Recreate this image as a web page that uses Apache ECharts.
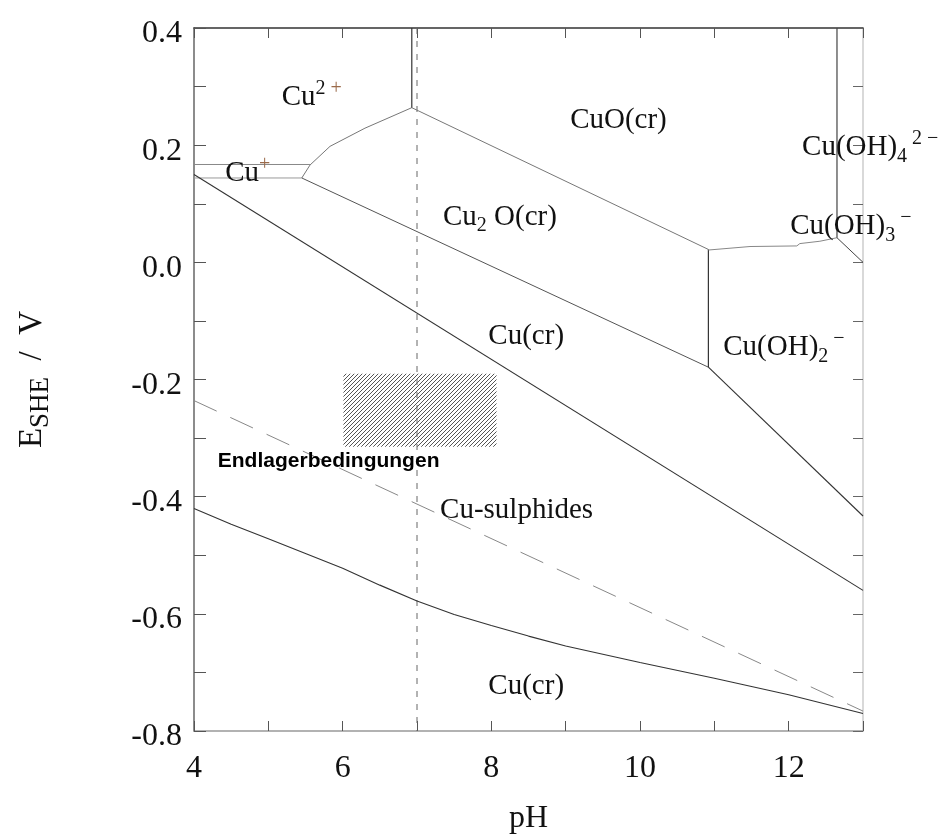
<!DOCTYPE html>
<html>
<head>
<meta charset="utf-8">
<script src="https://cdn.jsdelivr.net/npm/echarts@6/dist/echarts.min.js"></script>
<style>html,body{margin:0;padding:0;background:#fff}#c{width:946px;height:836px}</style>
</head>
<body>
<div id="c"></div>
<script>
// ---- axis ranges / ticks ----
const xRange = [4, 13];
const yRange = [-0.8, 0.4];
const xTickStep = 1;
const yTickStep = 0.1;

// ---- phase boundaries (pH, E/V) ----
const cuPlusTop      = [[4, 0.167], [5.56, 0.167]];
const cuPlusBottom   = [[4, 0.144], [5.45, 0.144]];
const cu2Cu2O        = [[5.45, 0.144], [5.56, 0.166], [5.83, 0.198], [6.3, 0.229], [6.93, 0.264]];
const cu2CuO         = [[6.93, 0.264], [6.93, 0.4]];
const cuOCu2O        = [[6.93, 0.264], [10.92, 0.022]];
const cu2OCu         = [[5.45, 0.144], [10.92, -0.179]];
const cuOCuOH2       = [[10.92, 0.022], [10.92, -0.179]];
const cuOCuOH3       = [[10.92, 0.021], [11.48, 0.027], [12.11, 0.028], [12.15, 0.032], [12.42, 0.036], [12.65, 0.042]];
const cuOCuOH4       = [[12.65, 0.042], [12.65, 0.4]];
const cuOH3CuOH4     = [[12.65, 0.042], [13, 0.0]];
const cuOH2Cu        = [[10.92, -0.179], [13, -0.433]];
const cuCu2OLower    = [[4, 0.15], [13, -0.56]];
const sulphideDashed = [[4, -0.236], [13, -0.766]];
const sulphideCu     = [[4, -0.42], [4.5, -0.447], [5, -0.472], [5.5, -0.497], [6, -0.522], [6.5, -0.551], [7, -0.578], [7.5, -0.601], [8, -0.62], [8.5, -0.638], [9, -0.655], [10, -0.683], [11, -0.71], [12, -0.738], [13, -0.77]];
const pH7Line        = [[7, 0.4], [7, -0.8]];

// ---- repository conditions box [x0, y0, x1, y1] ----
const hatchBox = [6.01, -0.19, 8.07, -0.315];

// ---- region labels [pH, E, text] ----
const regionLabels = [
  [5.18, 0.281, '{t|Cu}{sup|2 }{supc|+}'],
  [9.06, 0.243, '{t|CuO(cr)}'],
  [4.42, 0.151, '{t|Cu}{supc|+}'],
  [7.35, 0.077, '{t|Cu}{sub|2}{t| O(cr)}'],
  [12.18, 0.196, '{t|Cu(OH)}{sub|4}{sup| 2 −}'],
  [12.02, 0.061, '{t|Cu(OH)}{sub|3}{sup| −}'],
  [11.12, -0.145, '{t|Cu(OH)}{sub|2}{sup| −}'],
  [7.96, -0.126, '{t|Cu(cr)}'],
  [7.31, -0.424, '{t|Cu-sulphides}'],
  [7.96, -0.723, '{t|Cu(cr)}']
];
const noteLabel = [4.32, -0.34, 'Endlagerbedingungen'];

// hatch pattern
const pc = document.createElement('canvas');
pc.width = 4; pc.height = 4;
const pctx = pc.getContext('2d');
pctx.strokeStyle = '#555';
pctx.lineWidth = 1;
pctx.beginPath();
pctx.moveTo(-1, 5); pctx.lineTo(5, -1);
pctx.moveTo(-1, 1); pctx.lineTo(1, -1);
pctx.moveTo(3, 5); pctx.lineTo(5, 3);
pctx.stroke();

const serif = 'Liberation Serif';
const rich = {
  t:   {fontFamily: serif, fontSize: 29, color: '#111', lineHeight: 38, verticalAlign: 'middle'},
  sub: {fontFamily: serif, fontSize: 20, color: '#111', lineHeight: 38, verticalAlign: 'bottom'},
  sup: {fontFamily: serif, fontSize: 20, color: '#111', lineHeight: 38, verticalAlign: 'top'},
  supc:{fontFamily: serif, fontSize: 20, color: '#9a6a4a', lineHeight: 38, verticalAlign: 'top'}
};

function lineSeries(data, color, width, type) {
  return {
    type: 'line', data: data, showSymbol: false, symbol: 'none', silent: true,
    lineStyle: {color: color, width: width || 1, type: type || 'solid'},
    animation: false, z: 3
  };
}

const chart = echarts.init(document.getElementById('c'), null, {renderer: 'canvas'});
const axisLabelFont = {fontFamily: serif, fontSize: 32, color: '#111'};

chart.setOption({
  animation: false,
  backgroundColor: '#fff',
  grid: {left: 194, right: 83, top: 28, bottom: 105, containLabel: false, outerBoundsMode: 'none'},
  xAxis: [{
    type: 'value', min: xRange[0], max: xRange[1], interval: xTickStep, position: 'bottom',
    name: 'pH', nameLocation: 'middle', nameGap: 72,
    nameTextStyle: {fontFamily: serif, fontSize: 32, color: '#111'},
    axisLine: {show: true, onZero: false, lineStyle: {color: '#999', width: 1.5}},
    axisTick: {show: true, inside: true, length: 10, lineStyle: {color: '#555'}},
    axisLabel: Object.assign({margin: 22, formatter: v => (Math.round(v) % 2 === 0 ? String(Math.round(v)) : '')}, axisLabelFont),
    splitLine: {show: false}
  }, {
    type: 'value', min: xRange[0], max: xRange[1], interval: xTickStep, position: 'top',
    axisLine: {show: true, onZero: false, lineStyle: {color: '#333', width: 1.5}},
    axisTick: {show: true, inside: true, length: 10, lineStyle: {color: '#555'}},
    axisLabel: {show: false}, splitLine: {show: false}
  }],
  yAxis: [{
    type: 'value', min: yRange[0], max: yRange[1], interval: yTickStep, position: 'left',
    name: '{t|E}{s|SHE}{t|  /  V}', nameLocation: 'middle', nameGap: 140, nameRotate: 90,
    nameTextStyle: {
      rich: {
        t: {fontFamily: serif, fontSize: 33, color: '#111', lineHeight: 44, verticalAlign: 'middle'},
        s: {fontFamily: serif, fontSize: 27, color: '#111', lineHeight: 44, verticalAlign: 'bottom'}
      }
    },
    axisLine: {show: true, onZero: false, lineStyle: {color: '#666', width: 1.5}},
    axisTick: {show: true, inside: true, length: 12, lineStyle: {color: '#555'}},
    axisLabel: {
      margin: 12,
      formatter: v => (Math.round(v * 10) % 2 === 0 ? '{a|' + (Math.round(v * 10) / 10).toFixed(1) + '}' : ''),
      rich: {a: {fontFamily: serif, fontSize: 32, color: '#111', padding: [12, 0, 0, 0]}}
    },
    splitLine: {show: false}
  }, {
    type: 'value', min: yRange[0], max: yRange[1], interval: yTickStep, position: 'right',
    axisLine: {show: true, onZero: false, lineStyle: {color: '#ccc', width: 1.5}},
    axisTick: {show: true, inside: true, length: 10, lineStyle: {color: '#666'}},
    axisLabel: {show: false}, splitLine: {show: false}
  }],
  series: [
    {
      type: 'custom', silent: true, z: 2,
      data: [hatchBox],
      encode: {x: [0, 2], y: [1, 3]},
      renderItem: function (params, api) {
        const p1 = api.coord([api.value(0), api.value(1)]);
        const p2 = api.coord([api.value(2), api.value(3)]);
        return {
          type: 'rect',
          shape: {x: p1[0], y: p1[1], width: p2[0] - p1[0], height: p2[1] - p1[1]},
          style: {fill: {image: pc, repeat: 'repeat'}}
        };
      }
    },
    lineSeries(pH7Line, '#666', 1, [6, 7]),
    lineSeries(cuPlusTop, '#888', 1),
    lineSeries(cuPlusBottom, '#999', 1),
    lineSeries(cu2Cu2O, '#777', 1),
    lineSeries(cu2CuO, '#333', 1.2),
    lineSeries(cuOCu2O, '#777', 1),
    lineSeries(cu2OCu, '#555', 1),
    lineSeries(cuOCuOH2, '#333', 1.2),
    lineSeries(cuOCuOH3, '#888', 1),
    lineSeries(cuOCuOH4, '#444', 1.2),
    lineSeries(cuOH3CuOH4, '#444', 1),
    lineSeries(cuOH2Cu, '#333', 1.1),
    lineSeries(cuCu2OLower, '#333', 1.1),
    lineSeries(sulphideDashed, '#888', 1, [25, 15]),
    lineSeries(sulphideCu, '#333', 1.1),
    {
      type: 'scatter', silent: true, symbolSize: 0, z: 5,
      itemStyle: {opacity: 1},
      data: regionLabels.map(d => ({value: [d[0], d[1]], labelText: d[2]})),
      label: {
        show: true, position: 'inside', align: 'left', verticalAlign: 'middle',
        formatter: p => p.data.labelText, rich: rich
      }
    },
    {
      type: 'scatter', silent: true, symbolSize: 0, z: 5,
      itemStyle: {opacity: 1},
      data: [[noteLabel[0], noteLabel[1]]],
      label: {
        show: true, position: 'inside', align: 'left', verticalAlign: 'middle',
        formatter: noteLabel[2],
        fontFamily: 'Liberation Sans', fontWeight: 'bold', fontSize: 21, color: '#000'
      }
    }
  ]
});
</script>
</body>
</html>
